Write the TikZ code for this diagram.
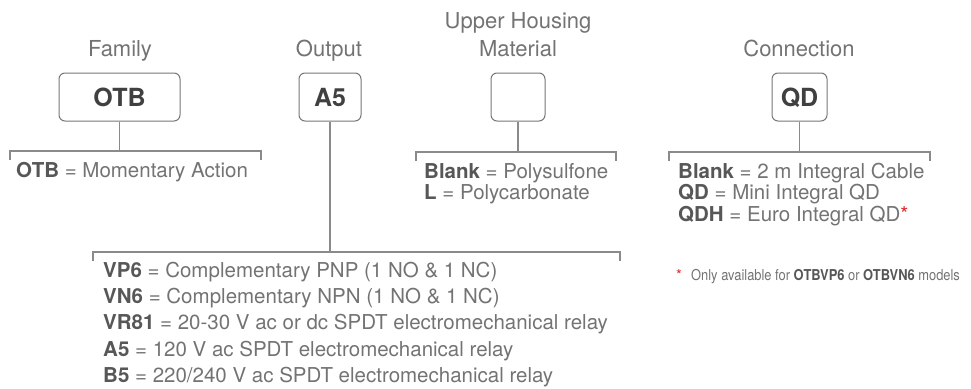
\documentclass[tikz,border=0pt]{standalone}
\usepackage{fontspec}
\setmainfont{TeX Gyre Heros}
\definecolor{txt}{HTML}{737373}
\definecolor{bld}{HTML}{575757}
\definecolor{boxtxt}{HTML}{404040}
\definecolor{ln}{HTML}{8A8A8A}
\definecolor{bx}{HTML}{767676}
\definecolor{starred}{HTML}{E0262B}
\newcommand\optcode[1]{\textcolor{bld}{\bfseries #1}}
\begin{document}
\begin{tikzpicture}[x=1pt,y=-1pt,
  hdr/.style={font=\fontsize{22}{28}\selectfont, text=txt, anchor=base, inner sep=0},
  code/.style={draw=bx, line width=1pt, rounded corners=6pt, minimum height=48pt, inner sep=0,
    font=\fontsize{25}{25}\selectfont\bfseries, text=boxtxt, text height=18pt, text depth=0pt},
  opt/.style={font=\fontsize{20.5}{21.5}\selectfont, text=txt, anchor=base west, inner sep=0},
  conn/.style={draw=ln, line width=1.1pt},
]
\useasboundingbox (0,0) rectangle (971,388);

% headers
\node[hdr] (lfam) at (120,56) {Family};
\node[hdr] (lout) at (329,56) {Output};
\node[hdr] (luh1) at (518,28) {Upper Housing};
\node[hdr] (luh2) at (518,56) {Material};
\node[hdr] (lcon) at (799,56) {Connection};

% code boxes
\node[code, minimum width=121pt] (otb) at (119.5,97) {OTB};
\node[code, minimum width=62pt] (a5) at (330,97) {A5};
\node[code, minimum width=54pt] (uh) at (518,97) {};
\node[code, minimum width=55pt] (qd) at (799.5,97) {QD};

% brackets
\coordinate (b1L) at (10,151);  \coordinate (b1R) at (261,151);
\coordinate (b2L) at (93,252);  \coordinate (b2R) at (620,252);
\coordinate (b3L) at (416,152); \coordinate (b3R) at (616,152);
\coordinate (b4L) at (669,152); \coordinate (b4R) at (930,152);

\draw[conn] (otb.south) -- (otb.south |- b1L);
\draw[conn] (b1L) ++(0,9) -- (b1L) -- (b1R) -- ++(0,9);
\draw[conn] (a5.south) -- (a5.south |- b2L);
\draw[conn] (b2L) ++(0,9) -- (b2L) -- (b2R) -- ++(0,9);
\draw[conn] (uh.south) -- (uh.south |- b3L);
\draw[conn] (b3L) ++(0,9) -- (b3L) -- (b3R) -- ++(0,9);
\draw[conn] (qd.south) -- (qd.south |- b4L);
\draw[conn] (b4L) ++(0,9) -- (b4L) -- (b4R) -- ++(0,9);

% options
\node[opt] (f1) at (16,177.5) {\optcode{OTB} = Momentary Action};

\node[opt] (u1) at (424,178) {\optcode{Blank} = Polysulfone};
\node[opt] (u2) at (424,199.5) {\optcode{L} = Polycarbonate};

\node[opt] (c1) at (678,178) {\optcode{Blank} = 2 m Integral Cable};
\node[opt] (c2) at (678,199.5) {\optcode{QD} = Mini Integral QD};
\node[opt] (c3) at (678,221) {\optcode{QDH} = Euro Integral QD\textcolor{starred}{*}};

\node[opt] (o1) at (103,277.5) {\optcode{VP6} = Complementary PNP (1 NO \& 1 NC)};
\node[opt] (o2) at (103,303.7) {\optcode{VN6} = Complementary NPN (1 NO \& 1 NC)};
\node[opt] (o3) at (103,329.9) {\optcode{VR81} = 20-30 V ac or dc SPDT electromechanical relay};
\node[opt] (o4) at (103,356.1) {\optcode{A5} = 120 V ac SPDT electromechanical relay};
\node[opt] (o5) at (103,382.3) {\optcode{B5} = 220/240 V ac SPDT electromechanical relay};

% footnote
\node[anchor=base west, inner sep=0, text=starred, font=\fontsize{15}{15}\selectfont] (star) at (676,280) {*};
\node[anchor=base west, inner sep=0, text=txt, font=\fontsize{15}{15}\selectfont] (fn) at (691,280)
  {\scalebox{0.86}[1]{Only available for \optcode{OTBVP6} or \optcode{OTBVN6} models}};
\end{tikzpicture}
\end{document}
